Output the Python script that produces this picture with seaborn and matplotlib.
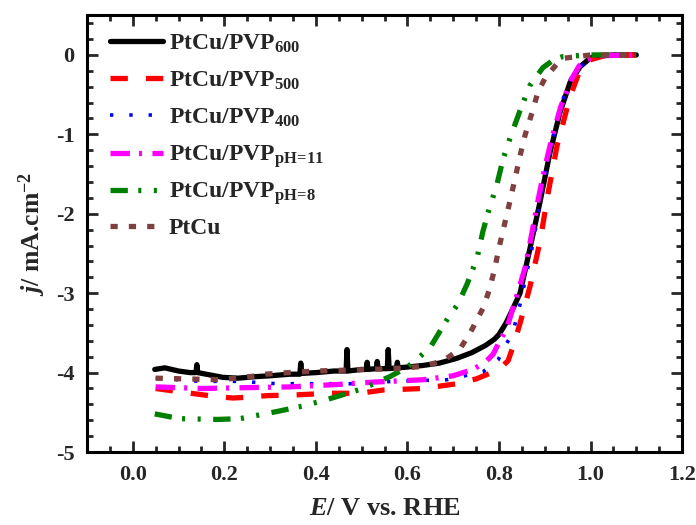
import matplotlib
matplotlib.use("Agg")
import matplotlib.pyplot as plt
import seaborn as sns
import numpy as np
from matplotlib.ticker import MultipleLocator

# Linear sweep voltammetry curves: potential E (V vs. RHE) and current density j (mA cm^-2)
x_600 = [0.048, 0.07, 0.10, 0.125, 0.138, 0.140, 0.142, 0.16, 0.197, 0.23, 0.27, 0.30, 0.343,
         0.365, 0.367, 0.369, 0.40, 0.44, 0.466, 0.468, 0.470, 0.50, 0.510, 0.512, 0.514,
         0.532, 0.534, 0.536, 0.556, 0.558, 0.560, 0.576, 0.578, 0.580, 0.60, 0.634, 0.67,
         0.708, 0.74, 0.77, 0.79, 0.80, 0.815, 0.83, 0.846, 0.868, 0.89, 0.911, 0.933, 0.955,
         0.977, 0.999, 1.02, 1.05, 1.10]
j_600 = [-3.96, -3.94, -3.98, -4.00, -4.00, -3.90, -4.00, -4.02, -4.06, -4.07, -4.05, -4.04, -4.02,
         -4.02, -3.88, -4.01, -4.00, -3.98, -3.98, -3.71, -3.98, -3.96, -3.96, -3.87, -3.96,
         -3.95, -3.86, -3.95, -3.95, -3.71, -3.95, -3.94, -3.87, -3.94, -3.93, -3.91, -3.88,
         -3.82, -3.75, -3.66, -3.58, -3.52, -3.38, -3.20, -3.00, -2.43, -1.84, -1.24, -0.73, -0.35,
         -0.15, -0.04, -0.01, 0.0, 0.0]

x_500 = [0.050, 0.10, 0.14, 0.18, 0.219, 0.25, 0.293, 0.358, 0.43, 0.496, 0.546, 0.634, 0.708,
         0.75, 0.78, 0.802, 0.82, 0.832, 0.846, 0.868, 0.89, 0.907, 0.927, 0.945, 0.955, 0.975,
         1.0, 1.03, 1.097]
j_500 = [-4.20, -4.24, -4.27, -4.30, -4.32, -4.31, -4.29, -4.28, -4.26, -4.26, -4.22, -4.20, -4.14,
         -4.08, -4.01, -3.95, -3.85, -3.65, -3.38, -2.91, -2.34, -1.75, -1.14, -0.75, -0.53, -0.22,
         -0.06, -0.01, 0.0]

x_400 = [0.050, 0.146, 0.234, 0.315, 0.409, 0.49, 0.568, 0.686, 0.765, 0.798, 0.815, 0.83, 0.846,
         0.872, 0.883, 0.905, 0.933, 0.96, 0.999, 1.03, 1.10]
j_400 = [-4.07, -4.11, -4.11, -4.14, -4.14, -4.14, -4.11, -4.09, -3.99, -3.84, -3.65, -3.50, -3.14,
         -2.44, -2.09, -1.37, -0.66, -0.25, -0.03, 0.0, 0.0]

x_ph11 = [0.050, 0.153, 0.24, 0.343, 0.446, 0.525, 0.634, 0.70, 0.743, 0.77, 0.787, 0.80, 0.817,
          0.837, 0.857, 0.87, 0.885, 0.90, 0.916, 0.935, 0.96, 0.975, 0.99, 1.02, 1.10]
j_ph11 = [-4.18, -4.20, -4.19, -4.18, -4.15, -4.12, -4.09, -4.04, -3.96, -3.87, -3.77, -3.62, -3.44,
          -3.07, -2.68, -2.30, -1.84, -1.42, -1.04, -0.65, -0.29, -0.14, -0.06, -0.01, 0.0]

x_ph8 = [0.048, 0.103, 0.184, 0.234, 0.315, 0.372, 0.424, 0.503, 0.562, 0.60, 0.627, 0.65, 0.671,
         0.69, 0.71, 0.73, 0.752, 0.765, 0.776, 0.796, 0.809, 0.824, 0.846, 0.868, 0.896, 0.92,
         0.94, 1.0, 1.10]
j_ph8 = [-4.52, -4.58, -4.59, -4.58, -4.49, -4.42, -4.34, -4.20, -4.05, -3.93, -3.80, -3.68, -3.48,
         -3.30, -3.14, -2.89, -2.56, -2.22, -1.99, -1.62, -1.31, -1.05, -0.70, -0.38, -0.16, -0.06,
         -0.02, 0.0, 0.0]

x_ptcu = [0.050, 0.12, 0.19, 0.257, 0.29, 0.34, 0.40, 0.46, 0.525, 0.60, 0.634, 0.66, 0.686, 0.715,
          0.737, 0.765, 0.78, 0.791, 0.802, 0.813, 0.824, 0.835, 0.846, 0.857, 0.872, 0.885, 0.90,
          0.911, 0.93, 0.944, 1.0, 1.10]
j_ptcu = [-4.07, -4.08, -4.09, -4.05, -4.02, -4.00, -3.98, -3.97, -3.96, -3.94, -3.92, -3.88, -3.82,
          -3.70, -3.50, -3.19, -2.94, -2.68, -2.38, -2.11, -1.84, -1.56, -1.27, -1.01, -0.73, -0.47,
          -0.30, -0.22, -0.09, -0.04, 0.0, 0.0]

labels = [r"PtCu/PVP$_{600}$", r"PtCu/PVP$_{500}$", r"PtCu/PVP$_{400}$",
          r"PtCu/PVP$_{pH\!=\!11}$", r"PtCu/PVP$_{pH\!=\!8}$", "PtCu"]

sns.set_theme(style="ticks")
plt.rcParams.update({
    "font.family": ["Liberation Serif", "DejaVu Serif"],
    "font.weight": "bold",
    "mathtext.fontset": "custom",
    "mathtext.rm": "Liberation Serif:bold",
    "mathtext.bf": "Liberation Serif:bold",
    "mathtext.it": "Liberation Serif:italic:bold",
    "mathtext.bfit": "Liberation Serif:italic:bold",
    "mathtext.default": "bf",
    "lines.scale_dashes": False,
})

fig = plt.figure(figsize=(6.96, 5.25), dpi=100)
ax = fig.add_axes([0.125, 0.139, 0.855, 0.832])

series = [
    (x_600, j_600, "#000000", 3.8, "-"),
    (x_500, j_500, "#FF0000", 3.8, (0, (12.5, 13.0))),
    (x_400, j_400, "#0000FF", 2.6, (0, (2.4, 11.5))),
    (x_ph11, j_ph11, "#FF00FF", 3.8, (0, (14.0, 6.5, 2.2, 7.5))),
    (x_ph8, j_ph8, "#008000", 3.8, (0, (12.5, 7.5, 2.2, 9.0, 2.2, 9.0))),
    (x_ptcu, j_ptcu, "#804040", 3.8, (0, (5.2, 8.0))),
]

for (xs, js, col, lw, ls), lab in zip(series, labels):
    sns.lineplot(x=xs, y=js, ax=ax, color=col, linewidth=lw, linestyle=ls,
                 label=lab, sort=False, estimator=None)

ax.set_xlim(-0.1, 1.2)
ax.set_ylim(-5, 0.5)
ax.xaxis.set_minor_locator(MultipleLocator(0.05))
ax.yaxis.set_minor_locator(MultipleLocator(0.2))
ax.set_xticks([0.0, 0.2, 0.4, 0.6, 0.8, 1.0, 1.2])
ax.set_xticklabels(["0.0", "0.2", "0.4", "0.6", "0.8", "1.0", "1.2"])
ax.set_yticks([0, -1, -2, -3, -4, -5])
ax.set_yticklabels(["0", "-1", "-2", "-3", "-4", "-5"])

ax.tick_params(which="both", direction="in", top=True, right=True, width=2, labelsize=16, pad=9)
ax.tick_params(which="major", length=8)
ax.tick_params(which="minor", length=4.5)
for lab in ax.get_xticklabels() + ax.get_yticklabels():
    lab.set_fontweight("bold")
for sp in ax.spines.values():
    sp.set_linewidth(2.2)
    sp.set_color("black")

ax.set_xlabel(r"$\mathbfit{E}$/ V vs. RHE", fontsize=19, fontweight="bold", labelpad=9)
ax.set_ylabel(r"$\mathbfit{j}$/ mA.cm$^{-2}$", fontsize=18.5, fontweight="bold", labelpad=6)

leg = ax.legend(loc="upper left", bbox_to_anchor=(0.038, 0.960), frameon=False,
                prop={"family": "Liberation Serif", "weight": "bold", "size": 17},
                handlelength=2.25, handletextpad=0.25,
                labelspacing=0.43, borderaxespad=0.0, borderpad=0.0)
# give every legend row the same height so the entries are evenly spaced
for column in leg._legend_handle_box.get_children():
    column.mode = "equal"

fig.savefig("out.png", dpi=100)
